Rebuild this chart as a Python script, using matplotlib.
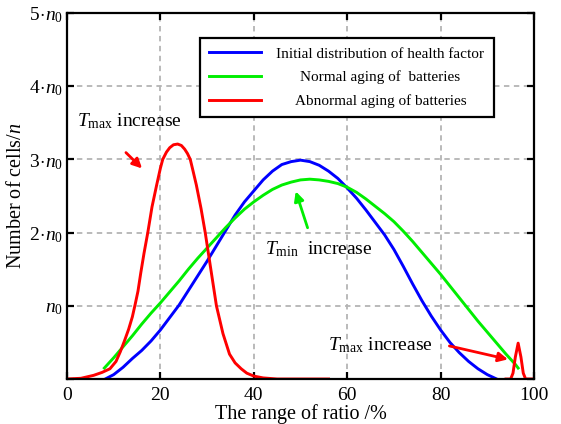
import matplotlib
matplotlib.use("Agg")
import matplotlib.pyplot as plt
import numpy as np

plt.rcParams["font.family"] = "Liberation Serif"
plt.rcParams["mathtext.fontset"] = "custom"
plt.rcParams["mathtext.rm"] = "Liberation Serif"
plt.rcParams["mathtext.it"] = "Liberation Serif:italic"

# values (x in %, y in units of n0)
blue_x = [8.2, 10, 12, 14, 16, 18, 20, 22, 24, 26, 28, 30, 32, 34, 36, 38, 40, 42, 44, 46, 48, 50,
          52, 54, 56, 58, 60, 62, 64, 66, 68, 70, 72, 74, 76, 78, 80, 82, 84, 86, 88, 90, 92]
blue_y = [0.0, 0.06, 0.16, 0.28, 0.39, 0.52, 0.67, 0.84, 1.01, 1.21, 1.41, 1.61, 1.82, 2.03, 2.24,
          2.42, 2.57, 2.72, 2.84, 2.93, 2.97, 2.99, 2.97, 2.92, 2.84, 2.74, 2.61, 2.47, 2.31, 2.14,
          1.97, 1.77, 1.54, 1.30, 1.07, 0.86, 0.67, 0.50, 0.36, 0.24, 0.14, 0.06, 0.0]

green_x = [8, 10, 12, 14, 16, 18, 20, 22, 24, 26, 28, 30, 32, 34, 36, 38, 40, 42, 44, 46, 48, 50,
           52, 54, 56, 58, 60, 62, 64, 66, 68, 70, 72, 74, 76, 78, 80, 82, 84, 86, 88, 90, 92, 94,
           96, 96.6]
green_y = [0.15, 0.29, 0.44, 0.59, 0.75, 0.90, 1.04, 1.19, 1.34, 1.50, 1.65, 1.79, 1.93, 2.07, 2.20,
           2.32, 2.42, 2.51, 2.59, 2.65, 2.69, 2.72, 2.73, 2.72, 2.70, 2.67, 2.62, 2.55, 2.46, 2.36,
           2.26, 2.15, 2.02, 1.88, 1.73, 1.58, 1.43, 1.27, 1.11, 0.95, 0.79, 0.64, 0.49, 0.34,
           0.20, 0.15]

red_x = [0, 3, 5.7, 7.5, 9.2, 10.5, 11.4, 12.3, 13.2, 14, 14.6, 15.2, 15.8, 16.5, 17.3, 18.2, 19.2,
         20, 20.5, 21.3, 22, 22.8, 23.7, 24.5, 25.2, 25.8, 26.4, 27, 27.7, 28.7, 29.6, 30.75, 32,
         33.4, 34.8, 36, 37.3, 38.5, 40, 42, 45, 56,
         np.nan,
         94, 95, 95.5, 96, 96.6, 97.2, 97.7, 98.2, 100]
red_y = [0.0, 0.01, 0.05, 0.09, 0.14, 0.24, 0.37, 0.52, 0.68, 0.85, 1.02, 1.20, 1.45, 1.72, 2.0,
         2.35, 2.65, 2.88, 3.0, 3.1, 3.16, 3.2, 3.21, 3.19, 3.14, 3.08, 3.0, 2.84, 2.65, 2.33, 2.0,
         1.52, 1.0, 0.62, 0.34, 0.22, 0.14, 0.08, 0.04, 0.015, 0.0, 0.0,
         np.nan,
         0.0, 0.0, 0.08, 0.30, 0.49, 0.30, 0.08, 0.0, 0.0]

labels = ["Initial distribution of health factor",
          "Normal aging of  batteries",
          "Abnormal aging of batteries"]
y_ticks = [0, 1, 2, 3, 4, 5]
y_ticklabels = ["", r"$n_0$", r"$2\!\cdot\! n_0$", r"$3\!\cdot\! n_0$", r"$4\!\cdot\! n_0$", r"$5\!\cdot\! n_0$"]

fig = plt.figure(figsize=(5.61, 4.24), dpi=100)
ax = fig.add_axes([0.1194, 0.1061, 0.8325, 0.8632])

ax.plot(blue_x, blue_y, color="#0000ff", lw=2.1, label=labels[0])
ax.plot(green_x, green_y, color="#00ee00", lw=2.1, label=labels[1])
ax.plot(red_x, red_y, color="#ff0000", lw=2.1, label=labels[2])

ax.set_xlim(0, 100)
ax.set_ylim(0, 5)
ax.set_xticks([0, 20, 40, 60, 80, 100])
ax.set_yticks(y_ticks)
ax.set_yticklabels(y_ticklabels)
ax.tick_params(direction="in", length=5, width=1.6, top=True, right=True, labelsize=14)
ax.tick_params(axis="x", pad=6)
ax.tick_params(axis="y", pad=3)
ax.grid(True, color="#b4b4b4", linestyle=(0, (3, 2.5)), lw=1.3)
for s in ax.spines.values():
    s.set_linewidth(1.6)

ax.set_xlabel("The range of ratio /%", fontsize=14.5, labelpad=0)
ax.set_ylabel(r"Number of cells/$n$", fontsize=14.5, labelpad=2)

# annotations
ax.text(2.1, 3.52, r"$T_{\rm max}$ increase", fontsize=14, va="center")
ax.annotate("", xy=(16.5, 2.85), xytext=(12.2, 3.12),
            arrowprops=dict(arrowstyle="-|>", color="#ff0000", lw=2, mutation_scale=14))
ax.text(42.4, 1.77, r"$T_{\rm min}$  increase", fontsize=14, va="center")
ax.annotate("", xy=(48.8, 2.60), xytext=(51.7, 2.03),
            arrowprops=dict(arrowstyle="-|>", color="#00ee00", lw=2, mutation_scale=14))
ax.text(55.9, 0.46, r"$T_{\rm max}$ increase", fontsize=14, va="center")
ax.annotate("", xy=(95.0, 0.26), xytext=(81.3, 0.46),
            arrowprops=dict(arrowstyle="-|>", color="#ff0000", lw=2, mutation_scale=14))

leg = ax.legend(loc="upper left", bbox_to_anchor=(0.285, 0.932), fontsize=11,
                fancybox=False, edgecolor="black", framealpha=1,
                handlelength=3.4, handletextpad=1.0, labelspacing=0.65,
                borderpad=0.6, borderaxespad=0)
leg.get_frame().set_linewidth(1.6)

# centre the legend texts in their column like the reference
fig.canvas.draw()
r = fig.canvas.get_renderer()
widths = [t.get_window_extent(r).width for t in leg.get_texts()]
wmax = max(widths)
for t, w in zip(leg.get_texts(), widths):
    t.set_x((wmax - w) / 2)

fig.savefig("out.png", dpi=100)
